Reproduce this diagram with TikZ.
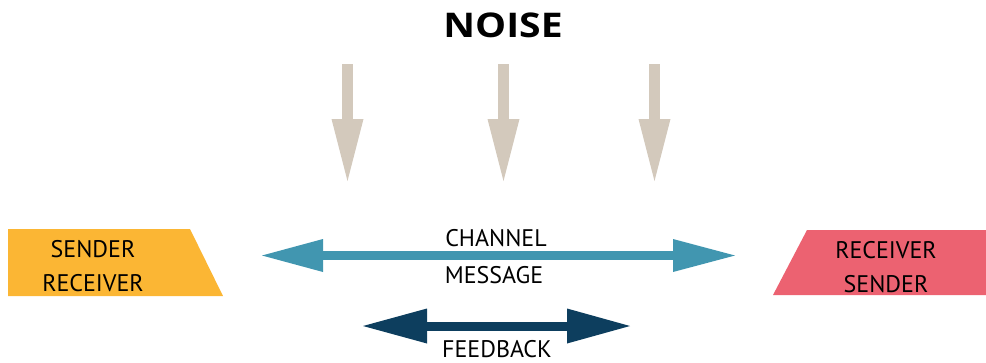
\documentclass[tikz,border=0pt]{standalone}
\usepackage{fontspec}
\setmainfont{PT Sans}
\newfontfamily\noisefont{Open Sans}
\usetikzlibrary{arrows.meta}
\definecolor{sendcol}{HTML}{FBB634}
\definecolor{recvcol}{HTML}{EC6271}
\definecolor{noisecol}{HTML}{D3C9BC}
\definecolor{chancol}{HTML}{4196B0}
\definecolor{backcol}{HTML}{0D3E5E}
\begin{document}
\begin{tikzpicture}[x=1pt, y=-1pt, line join=miter]
	\tikzset{lbl/.style={font=\fontsize{24}{34}\selectfont, inner sep=0pt, align=center},
		noisearrow/.style={draw=noisecol, line width=11pt, -{Triangle[length=62pt, width=32pt, line width=0pt]}},
		chanarrow/.style={draw=chancol, line width=9pt, {Triangle[length=61pt, width=33pt, line width=0pt]}-{Triangle[length=62pt, width=33pt, line width=0pt]}},
		backarrow/.style={draw=backcol, line width=9pt, {Triangle[length=64pt, width=35pt, line width=0pt]}-{Triangle[length=63pt, width=35pt, line width=0pt]}}}
	\useasboundingbox (0,0) rectangle (986,362);
	% boxes
	\fill[sendcol] (8,229) -- (190,229) -- (223,296) -- (8,296) -- cycle;
	\fill[recvcol] (807,230) -- (986,230) -- (986,295) -- (773,295) -- cycle;
	\node[lbl] (sender) at (93,265.7) {SENDER\\RECEIVER};
	\node[lbl] (receiver) at (886,266.7) {RECEIVER\\SENDER};
	% noise
	\node[font=\noisefont\bfseries\fontsize{34}{34}\selectfont, inner sep=0pt, anchor=base, xscale=1.15] (noise) at (503,37) {NOISE};
	\foreach \nx/\nm in {347.5/a,503.5/b,654.5/c}{
		\coordinate (top\nm) at (\nx,64);
		\coordinate (tip\nm) at (\nx,181);
		\draw[noisearrow] (top\nm) -- (tip\nm);
	}
	% channel + feedback
	\coordinate (chleft) at (262,255.5);
	\coordinate (chright) at (735,255.5);
	\draw[chanarrow] (chleft) -- (chright);
	\node[lbl, anchor=base] (channel) at (496,246) {CHANNEL};
	\node[lbl, anchor=base] (message) at (494,283) {MESSAGE};
	\coordinate (fbleft) at (363,326);
	\coordinate (fbright) at (630,326);
	\draw[backarrow] (fbleft) -- (fbright);
	\node[lbl, anchor=base] (feedback) at (497,357) {FEEDBACK};
\end{tikzpicture}
\end{document}
